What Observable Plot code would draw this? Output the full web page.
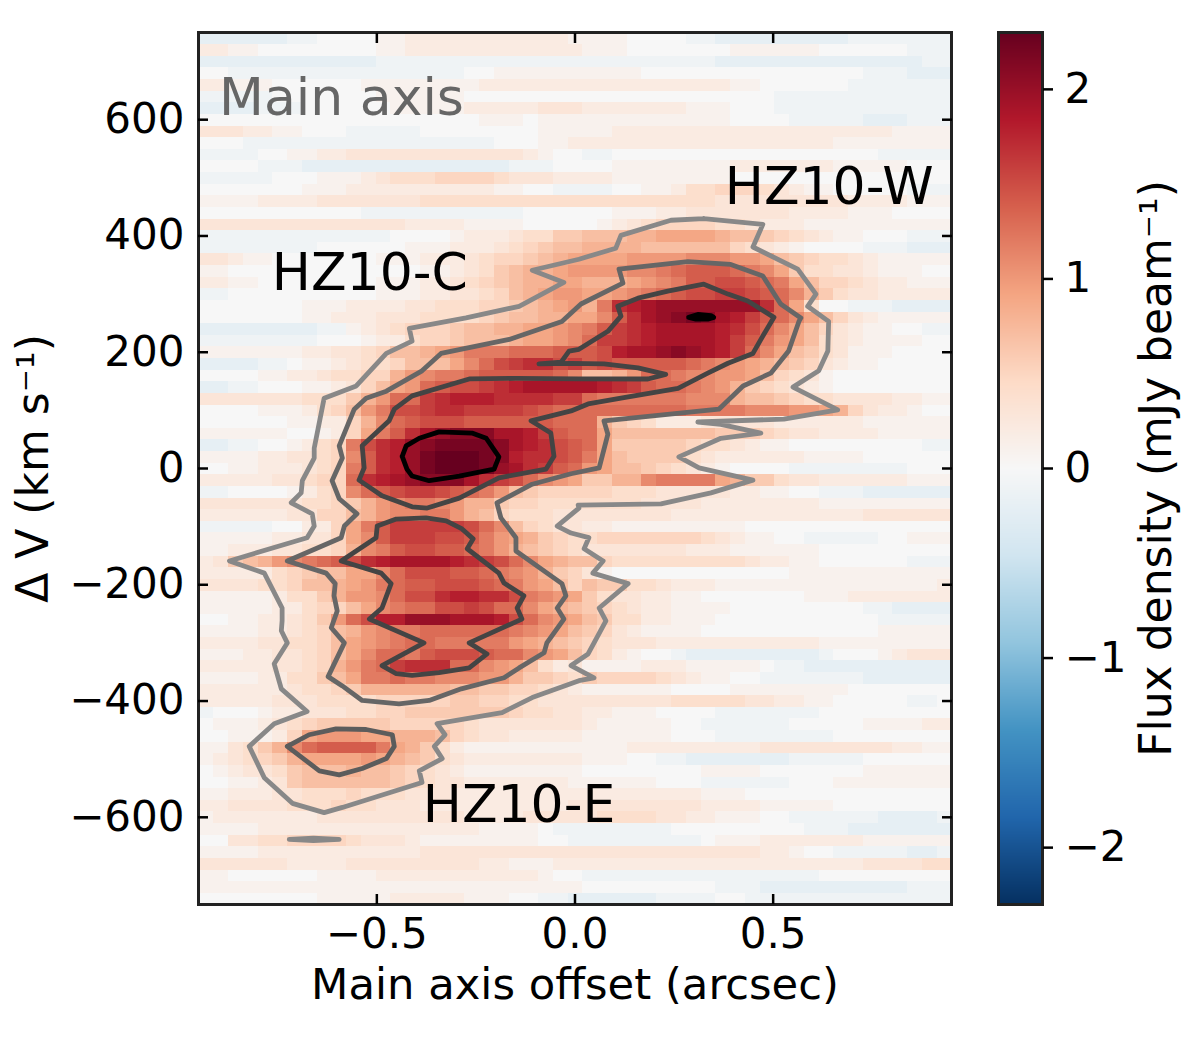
<!DOCTYPE html>
<html><head><meta charset="utf-8">
<script src="https://cdn.jsdelivr.net/npm/d3@7"></script>
<script src="https://cdn.jsdelivr.net/npm/@observablehq/plot@0.6"></script>
<style>
html,body{margin:0;padding:0;background:#fff}
#wrap{position:relative;width:1200px;height:1040px}
#wrap svg{position:absolute;left:0;top:0}
</style></head><body><div id="wrap"></div>
<script>
// Flux density per velocity channel (top = +740 km/s, 20 km/s steps), 51 offsets per row.
// One character per cell: index in fluxAlphabet, value = (index - 4) / 10 mJy/beam.
const fluxAlphabet = "0123456789ABCDEFGHIJKLMNOPQR";
const fluxRows = [
"2222223344 4455666666 6666655554 4443322222 2222333333 3",
"6655444444 4455666666 6666665554 4444445555 5544444433 3",
"2222222222 2233333333 3333333333 3333322222 2222222223 3",
"4433333333 3333333344 5555555555 4444444444 4444433322 2",
"6655544444 4555555556 6666666666 6666665544 4444333333 3",
"3333344444 4455555544 4444444444 4444444443 3333333333 3",
"2222333444 4445555566 6667776666 6665554443 3333333333 3",
"4444444444 4444444445 5545555555 5555554444 3333322233 3",
"7776655444 3333344444 4445555566 6666666666 6666666555 5",
"4443333333 3333333333 4445566666 6666666666 6665555555 5",
"3333445566 7777777777 7765443344 4444444444 4444443333 3",
"4444333222 2222222222 2333444455 5555556666 6665555544 4",
"3333344455 5678889999 8777666655 5555554444 4444444444 4",
"4444444555 6666666666 5544333344 5568899987 6554444433 3",
"5555666677 7777788888 8888888888 8888877777 7777666655 5",
"4444444444 4333333333 3344444455 5667777777 6666555444 4",
"7777777777 7777666655 5544444567 8999988766 6555555555 5",
"3333333333 3334444566 6788AABBBC CDDDDCBBA9 8765544433 3",
"3333333344 4444555666 789ABBCCCC BBBBBB9876 5444433322 2",
"7765544444 4455566678 99ABCDDDDE EEEFFFEEDB A988765555 5",
"5544444444 4444455678 ABCCDEEEEF FGHIIIHGFD A887765554 4",
"6655444444 4455566789 ABCCDDCCCD EFGIIJJIHG DB99876655 5",
"3344444444 4455566778 9BCDEEDDEF GHIJJKKJIH FCA8776666 6",
"4444444555 6666778889 9ABCDECGLM NOOOOOOOLH D844333222 2",
"4444444556 6677788889 ABBCCDDFIL NOPQPNMKIH FDB9765555 5",
"2222222233 5678999ABB CCDDEFGIKL MNNNNMLJHF DB97655443 3",
"3333333344 4566899ABB BCDDEFHKKL MNNNNMKIGE DB87655554 4",
"5555555667 789BBCDEGG GHHHIIIJMN NOPONMKHFD BA87555444 4",
"2222334556 7889BBBDFH JKLLJKIJII IIIHGFEDCB A976554444 4",
"4444556678 899CEFGGHI IIIIHFBBCE HHGFFEEDB9 8754444444 4",
"2233444556 79BDEHIJJK LMNNNNNMLK IHHGFECA98 7654444444 4",
"7777777888 ACEHHKLMMM LLLLKKHGGG GGGFFFCBBA 9887777665 5",
"4444555689 BEGJJKLLKK KKJIHHHHHH HHHGGGGFFF EEDC976654 4",
"4444445566 9CFHIJJJII IIIIHHHCA9 8666777776 6666655555 5",
"5555554456 9DGILNOPPP NNMKIHHDBB BBBBBAAA98 7766665555 5",
"2233445689 GJLMOPQQQQ PNMLJIHDAA AAA9887655 4444444443 3",
"5555667789 FILMOQRRRQ PMLLJIGDBA AAA8766666 6555544444 4",
"4455666789 GILMOQRRRQ ONLKIHEDBB A987654444 3333333344 4",
"6666677899 HLMNOPPPNL KJHFEDAACC FGGGGDCAA8 7766666655 5",
"3344445689 FHIJKKJIHG EBA9999988 8777776655 4433322222 2",
"7777777889 ACEFGGFECC A998888888 7777666666 6655555555 5",
"6666667799 BCEFFGGECB 9888777777 7766666666 6666677777 7",
"3333344669 DGIKKKKKJH FB98776655 5555555444 4444444444 4",
"5555566779 DFIKKKJJIG EDCA988999 9999876554 4333334455 5",
"5566677889 CFGIJJIIHG ECBA987777 7776665555 5544444444 4",
"67ABCEFGHI JLMNNNNMLK JHFDCBB988 8888888766 5544444433 3",
"6666689ABB DDFHJJJIIH GFECA97544 4444444444 5555555555 5",
"7777889BBC DEGHIIJJJI HGEDB9BAA8 8766655555 5555555555 6",
"55555688AC EEFHJJLMML LJGFEDA877 6655444444 4555666666 6",
"5555566899 BDFGHHJJKJ HHFDCBA987 6655554444 4444433222 2",
"44556678AE HJMMOOONNN MJHFEDBA88 6655544444 4444443333 3",
"555566789B CEFGGHHHHH HGFEDBA976 5555444444 4444445555 5",
"666677889B DEFGHHGGGG GEDCBA9877 7666666666 6655555555 5",
"555667789B DFHHGIJJJI HHFEDB9865 4432222222 2234445677 7",
"666667789C EGHKLLLHHF EDB8675555 6665555543 3222222222 2",
"55556688AB DGGHGGFFFE ECAA98A999 9876554433 3333322222 2",
"6666667889 ACCCCCCBBA A998765555 5544445555 5555444444 4",
"6666677788 8899999AA9 9887777777 7788888776 6554444433 4",
"3444566777 8899AAAAAA A988776655 5444433333 3344444444 4",
"45556789AA AAA9999987 7777776555 5544333333 4444455556 6",
"4455569DEE EDDCCCB987 7666665555 5544433333 3334444444 4",
"5578ACFHII IIGDCA8655 5555555556 6666666677 7777777665 5",
"56789ACDDD DEDCBA8766 6666665554 4332222222 3333344444 4",
"456778ABBB CBBA987655 5555554444 4444555544 4444455555 5",
"445567ABBB BBBA987766 6666655555 5444333333 4445555555 5",
"5566677888 9888777666 6666666666 6666555444 4444444444 4",
"6677778889 8877766666 6666677777 7777666655 5554444444 4",
"5666666677 7777777766 6677777888 8776655544 3333332222 3",
"5555666666 6666666665 5554333333 3344444444 4333222222 2",
"4477889999 8777655555 5554433333 3333455566 6666655555 5",
"5555666666 6666677777 7777777777 7777777766 5443333322 3",
"7777776666 7777777776 6555666666 6666666666 6666677778 8",
"5544444455 5566666666 6665443333 3333333333 3344444444 4",
"5555555555 5555555555 5555554444 4444433322 2222222233 3",
"4444444455 5556666655 5443322222 2333344333 3333333333 3"
];

// Contours: [offset arcsec, delta V km/s]
const contourOuter = [[.325,430],[.242,427],[.116,401],[.103,379],[.010,360],[-.108,341],[-.028,320],[-.141,279],[-.275,259],[-.418,241],[-.411,219],[-.476,198],[-.552,142],[-.633,121],[-.658,35],[-.658,18],[-.688,-21],[-.691,-42],[-.716,-59],[-.663,-78],[-.658,-99],[-.676,-119],[-.872,-159],[-.784,-180],[-.739,-240],[-.739,-262],[-.741,-279],[-.726,-300],[-.759,-336],[-.741,-379],[-.676,-418],[-.759,-439],[-.822,-478],[-.784,-532],[-.713,-576],[-.633,-592],[-.587,-583],[-.386,-540],[-.393,-520],[-.335,-499],[-.355,-478],[-.328,-458],[-.348,-439],[-.184,-420],[-.108,-394],[.010,-365],[.048,-360],[-.010,-339],[.033,-319],[.078,-262],[.061,-240],[.134,-198],[.045,-180],[.071,-159],[.023,-138],[.035,-119],[-.010,-111],[-.045,-99],[.010,-68],[.008,-63],[.217,-61],[.343,-42],[.449,-20],[.313,1],[.262,20],[.368,52],[.469,61],[.368,76],[.310,80],[.527,85],[.663,101],[.550,140],[.615,168],[.638,202],[.640,253],[.587,279],[.608,300],[.562,343],[.449,381],[.474,420],[.325,430]];
const contourIsland = [[-.721,-638],[-.66,-636],[-.595,-638],[-.66,-640],[-.721,-638]];
const contourMiddle = [[.111,343],[.285,356],[.393,351],[.474,331],[.519,283],[.570,259],[.565,253],[.539,202],[.494,164],[.424,142],[.363,102],[.073,82],[.083,59],[.061,1],[-.010,-9],[-.108,-27],[-.197,-59],[-.187,-85],[-.149,-119],[-.149,-142],[-.033,-198],[-.023,-219],[-.045,-240],[-.028,-259],[-.071,-300],[-.078,-317],[-.141,-343],[-.179,-360],[-.287,-379],[-.368,-399],[-.444,-405],[-.537,-399],[-.587,-374],[-.623,-358],[-.582,-300],[-.615,-274],[-.600,-245],[-.608,-219],[-.605,-198],[-.628,-180],[-.726,-159],[-.590,-119],[-.582,-99],[-.550,-78],[-.595,-52],[-.613,-21],[-.587,18],[-.595,39],[-.557,102],[-.527,121],[-.476,133],[-.386,168],[-.338,198],[-.166,222],[-.033,253],[.015,283],[.121,319],[.111,343]];
const contourEast = [[-.726,-478],[-.671,-458],[-.603,-448],[-.527,-449],[-.461,-458],[-.456,-478],[-.476,-499],[-.537,-516],[-.595,-527],[-.645,-520],[-.678,-503],[-.726,-478]];
const contourInnerTop = [[.108,279],[.159,293],[.234,305],[.325,317],[.386,300],[.436,288],[.502,260],[.474,228],[.449,198],[.386,181],[.335,164],[.260,138],[.116,121],[.033,111],[-.010,99],[-.111,82],[-.061,61],[-.053,21],[-.073,-1],[-.192,-16],[-.292,-51],[-.373,-68],[-.411,-66],[-.487,-47],[-.545,-20],[-.532,1],[-.537,39],[-.469,82],[-.456,102],[-.411,125],[-.267,154],[-.149,155],[.010,154],[.184,154],[.229,162],[.159,173],[.073,180],[-.010,181],[-.091,180],[-.035,183],[-.015,202],[.010,205],[.083,236],[.116,262],[.108,279]];
const contourInnerLow = [[-.499,-99],[-.451,-87],[-.376,-85],[-.325,-90],[-.285,-104],[-.257,-121],[-.272,-138],[-.192,-180],[-.179,-197],[-.129,-219],[-.146,-240],[-.134,-259],[-.267,-300],[-.222,-319],[-.267,-343],[-.343,-351],[-.411,-356],[-.451,-353],[-.487,-339],[-.381,-300],[-.519,-259],[-.487,-240],[-.464,-198],[-.489,-180],[-.590,-159],[-.502,-119],[-.499,-99]];
const contourPeakC = [[-.436,21],[-.426,39],[-.393,52],[-.343,63],[-.260,61],[-.224,52],[-.192,20],[-.204,-1],[-.292,-13],[-.368,-21],[-.411,-13],[-.424,-1],[-.436,21]];
const contourPeakW = [[.287,260],[.310,265],[.343,263],[.350,260],[.335,257],[.305,257],[.287,260]];

const annotations = [
  {text:"Main axis", x:-.898, y:636, color:"#666666"},
  {text:"HZ10-C", x:-.765, y:336, color:"#000000"},
  {text:"HZ10-W", x:.378, y:484, color:"#000000"},
  {text:"HZ10-E", x:-.384, y:-580, color:"#000000"}
];
const xTicks = [-.5, 0, .5];
const yTicks = [-600,-400,-200,0,200,400,600];
const barTicks = [-2,-1,0,1,2];
const rdbuStops = ["#053061","#2166ac","#4393c3","#92c5de","#d1e5f0","#f7f7f7","#fddbc7","#f4a582","#d6604d","#b2182b","#67001f"];
const rdbuDomain = rdbuStops.map((_,i)=>-2.3+i*.46);

const fluxValues = fluxRows.flatMap(r=>{
  const s = r.replace(/ /g,"");
  return Array.from(s.padEnd(51,s[s.length-1]).slice(0,51),c=>(fluxAlphabet.indexOf(c)-4)/10);
});
const colorScale = {type:"linear",domain:rdbuDomain,range:rdbuStops,interpolate:"rgb",clamp:true};
const fontStyle = {fontFamily:"DejaVu Sans",fontSize:"42px",color:"#000",background:"transparent"};
const contourLine = (pts,stroke)=>Plot.line(pts,{x:d=>d[0],y:d=>d[1],stroke,strokeWidth:4.8,strokeLinejoin:"round",curve:"linear"});

const main = Plot.plot({
  width:1200,height:1040,marginLeft:198,marginRight:249,marginTop:32,marginBottom:136,
  style:fontStyle,
  x:{domain:[-.95,.95]},
  y:{domain:[-750,750]},
  color:colorScale,
  marks:[
    Plot.raster(fluxValues,{width:51,height:75,x1:-.95,x2:.95,y1:750,y2:-750,imageRendering:"pixelated"}),
    contourLine(contourOuter,"#888888"),
    contourLine(contourIsland,"#888888"),
    contourLine(contourMiddle,"#666666"),
    contourLine(contourEast,"#5c5c5c"),
    contourLine(contourInnerTop,"#444444"),
    contourLine(contourInnerLow,"#444444"),
    contourLine(contourPeakC,"#000000"),
    contourLine(contourPeakW,"#000000"),
    Plot.text(annotations,{x:"x",y:"y",text:"text",fill:"color",textAnchor:"start",fontSize:52}),
    Plot.frame({stroke:"#222",strokeWidth:3}),
    Plot.axisX({anchor:"bottom",ticks:xTicks,tickSize:-10,tickPadding:24,strokeWidth:2.5,tickFormat:d3.format(".1f"),label:null,fontSize:42}),
    Plot.axisX({anchor:"bottom",ticks:[],label:"Main axis offset (arcsec)",labelAnchor:"center",labelArrow:"none",labelOffset:94,fontSize:43.3}),
    Plot.axisX({anchor:"top",ticks:xTicks,tickSize:-10,strokeWidth:2.5,tickFormat:()=>"",label:null}),
    Plot.axisY({anchor:"left",ticks:yTicks,tickSize:-10,tickPadding:24,strokeWidth:2.5,label:null,fontSize:42}),
    Plot.axisY({anchor:"left",ticks:[],label:"Δ V (km s⁻¹)",labelAnchor:"center",labelArrow:"none",labelOffset:182,fontSize:44}),
    Plot.axisY({anchor:"right",ticks:yTicks,tickSize:-10,strokeWidth:2.5,tickFormat:()=>"",label:null})
  ]
});
const bar = Plot.plot({
  width:1200,height:1040,marginLeft:998,marginRight:158,marginTop:32,marginBottom:136,
  style:fontStyle,
  x:{domain:[0,1],axis:null},
  y:{domain:[-2.3,2.3]},
  color:colorScale,
  marks:[
    Plot.raster({x1:0,x2:1,y1:-2.3,y2:2.3,fill:(x,y)=>y,pixelSize:1}),
    Plot.frame({stroke:"#222",strokeWidth:3}),
    Plot.axisY({anchor:"right",ticks:barTicks,tickSize:10,tickPadding:12,strokeWidth:2.5,tickFormat:d3.format("d"),label:null,fontSize:42}),
    Plot.axisY({anchor:"right",ticks:[],label:"Flux density (mJy beam⁻¹)",labelAnchor:"center",labelArrow:"none",labelOffset:128,fontSize:44})
  ]
});
const wrap = document.getElementById("wrap");
wrap.append(main);
wrap.append(bar);
</script></body></html>
